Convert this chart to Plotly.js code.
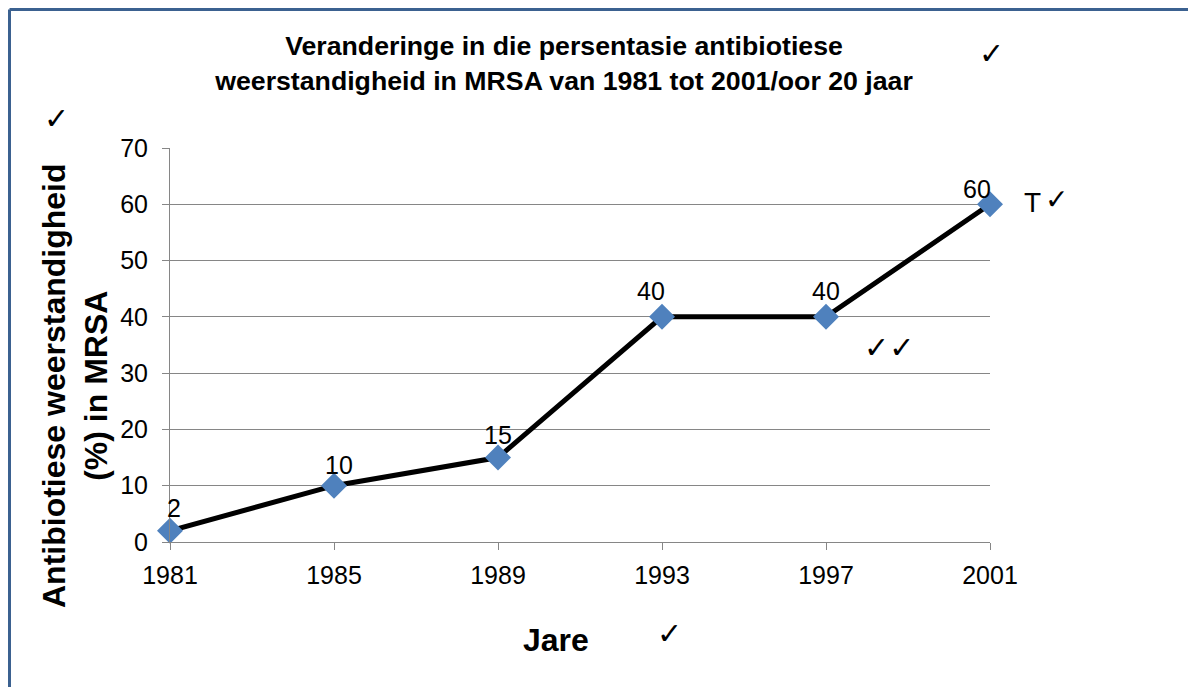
<!DOCTYPE html>
<html>
<head>
<meta charset="utf-8">
<script src="https://cdn.plot.ly/plotly-3.0.1.min.js"></script>
<style>
html,body{margin:0;padding:0;background:#fff;}
#chart{width:1188px;height:687px;}
</style>
</head>
<body>
<div id="chart"></div>
<script>
const years = [1981, 1985, 1989, 1993, 1997, 2001];
const resistance = [2, 10, 15, 40, 40, 60];
const yTicks = [0, 10, 20, 30, 40, 50, 60, 70];
const titleText = "Veranderinge in die persentasie antibiotiese<br>weerstandigheid in MRSA van 1981 tot 2001/oor 20 jaar";
const yTitle = "Antibiotiese weerstandigheid<br>(%) in MRSA";
const xTitle = "Jare";

const W = 1188, H = 687;
const L = 170, R = 198, T = 148, B = 145;
const pw = W - L - R, ph = H - T - B;
const px = x => (x - L) / pw;
const py = y => (H - B - y) / ph;

const font = "Liberation Sans, Arial, sans-serif";

// label offsets (style only)
const lblDx = [4, 5, 0, -11, 0, -13];
const lblDy = [23, 21, 23, 26, 26, 15];

const trace = {
  x: years,
  y: resistance,
  type: 'scatter',
  mode: 'lines+markers',
  line: {color: '#000', width: 5},
  marker: {symbol: 'diamond', size: 20, color: '#4F81BD', line: {width: 0}},
  hoverinfo: 'skip',
  cliponaxis: false
};

const check = (txt, x, y, size) => ({
  text: txt, x: px(x), y: py(y), xref: 'paper', yref: 'paper',
  showarrow: false, font: {family: "DejaVu Sans, sans-serif", size: size, color: '#000'},
  xanchor: 'center', yanchor: 'middle'
});

const dataLabels = years.map((yr, i) => ({
  x: yr, y: resistance[i], xref: 'x', yref: 'y',
  text: String(resistance[i]), showarrow: false,
  xshift: lblDx[i], yshift: lblDy[i],
  xanchor: 'center', yanchor: 'middle',
  font: {family: font, size: 25, color: '#000'}
}));

const layout = {
  width: W, height: H,
  margin: {l: L, r: R, t: T, b: B, pad: 0},
  paper_bgcolor: '#fff', plot_bgcolor: '#fff',
  showlegend: false,
  title: {
    text: titleText,
    font: {family: font, size: 26.7, color: '#000', weight: 'bold'},
    x: px(564), xanchor: 'center',
    y: 1 - 55 / H, yanchor: 'middle',
    xref: 'paper'
  },
  xaxis: {
    range: [1981, 2001],
    tickvals: years,
    ticktext: years.map(String),
    ticks: 'outside', ticklen: 7, tickcolor: '#868686', tickwidth: 1,
    ticklabelstandoff: 4,
    showline: true, linecolor: '#868686', linewidth: 1,
    showgrid: false, zeroline: false,
    tickfont: {family: font, size: 25, color: '#000'},
    fixedrange: true
  },
  yaxis: {
    range: [0, 70],
    tickvals: yTicks,
    ticks: 'outside', ticklen: 7, tickcolor: '#868686', tickwidth: 1,
    ticklabelstandoff: 9,
    showline: true, linecolor: '#868686', linewidth: 1,
    showgrid: true, gridcolor: '#868686', gridwidth: 1,
    zeroline: false,
    tickfont: {family: font, size: 25, color: '#000'},
    fixedrange: true
  },
  shapes: [
    {type: 'line', xref: 'paper', yref: 'paper', x0: px(9.5), x1: px(9.5), y0: py(9.5), y1: py(H + 5), line: {color: '#3B6190', width: 3}},
    {type: 'line', xref: 'paper', yref: 'paper', x0: px(9.5), x1: px(W + 5), y0: py(9.5), y1: py(9.5), line: {color: '#3B6190', width: 3}}
  ],
  annotations: dataLabels.concat([
    {text: yTitle, x: px(75), y: py(386), xref: 'paper', yref: 'paper', showarrow: false, textangle: -90,
     font: {family: font, size: 32, color: '#000', weight: 'bold'}, xanchor: 'center', yanchor: 'middle'},
    {text: xTitle, x: px(556), y: py(640), xref: 'paper', yref: 'paper', showarrow: false,
     font: {family: font, size: 32, color: '#000', weight: 'bold'}, xanchor: 'center', yanchor: 'middle'},
    check('✓', 57, 119, 30),
    check('✓', 991, 53, 30),
    check('✓', 669, 633, 30),
    check('✓✓', 889, 347, 30),
    {text: 'T', x: px(1032), y: py(202), xref: 'paper', yref: 'paper', showarrow: false,
     font: {family: font, size: 28, color: '#000'}, xanchor: 'center', yanchor: 'middle'},
    check('✓', 1056, 200, 28)
  ])
};

Plotly.newPlot('chart', [trace], layout, {displayModeBar: false, staticPlot: true});
</script>
</body>
</html>
